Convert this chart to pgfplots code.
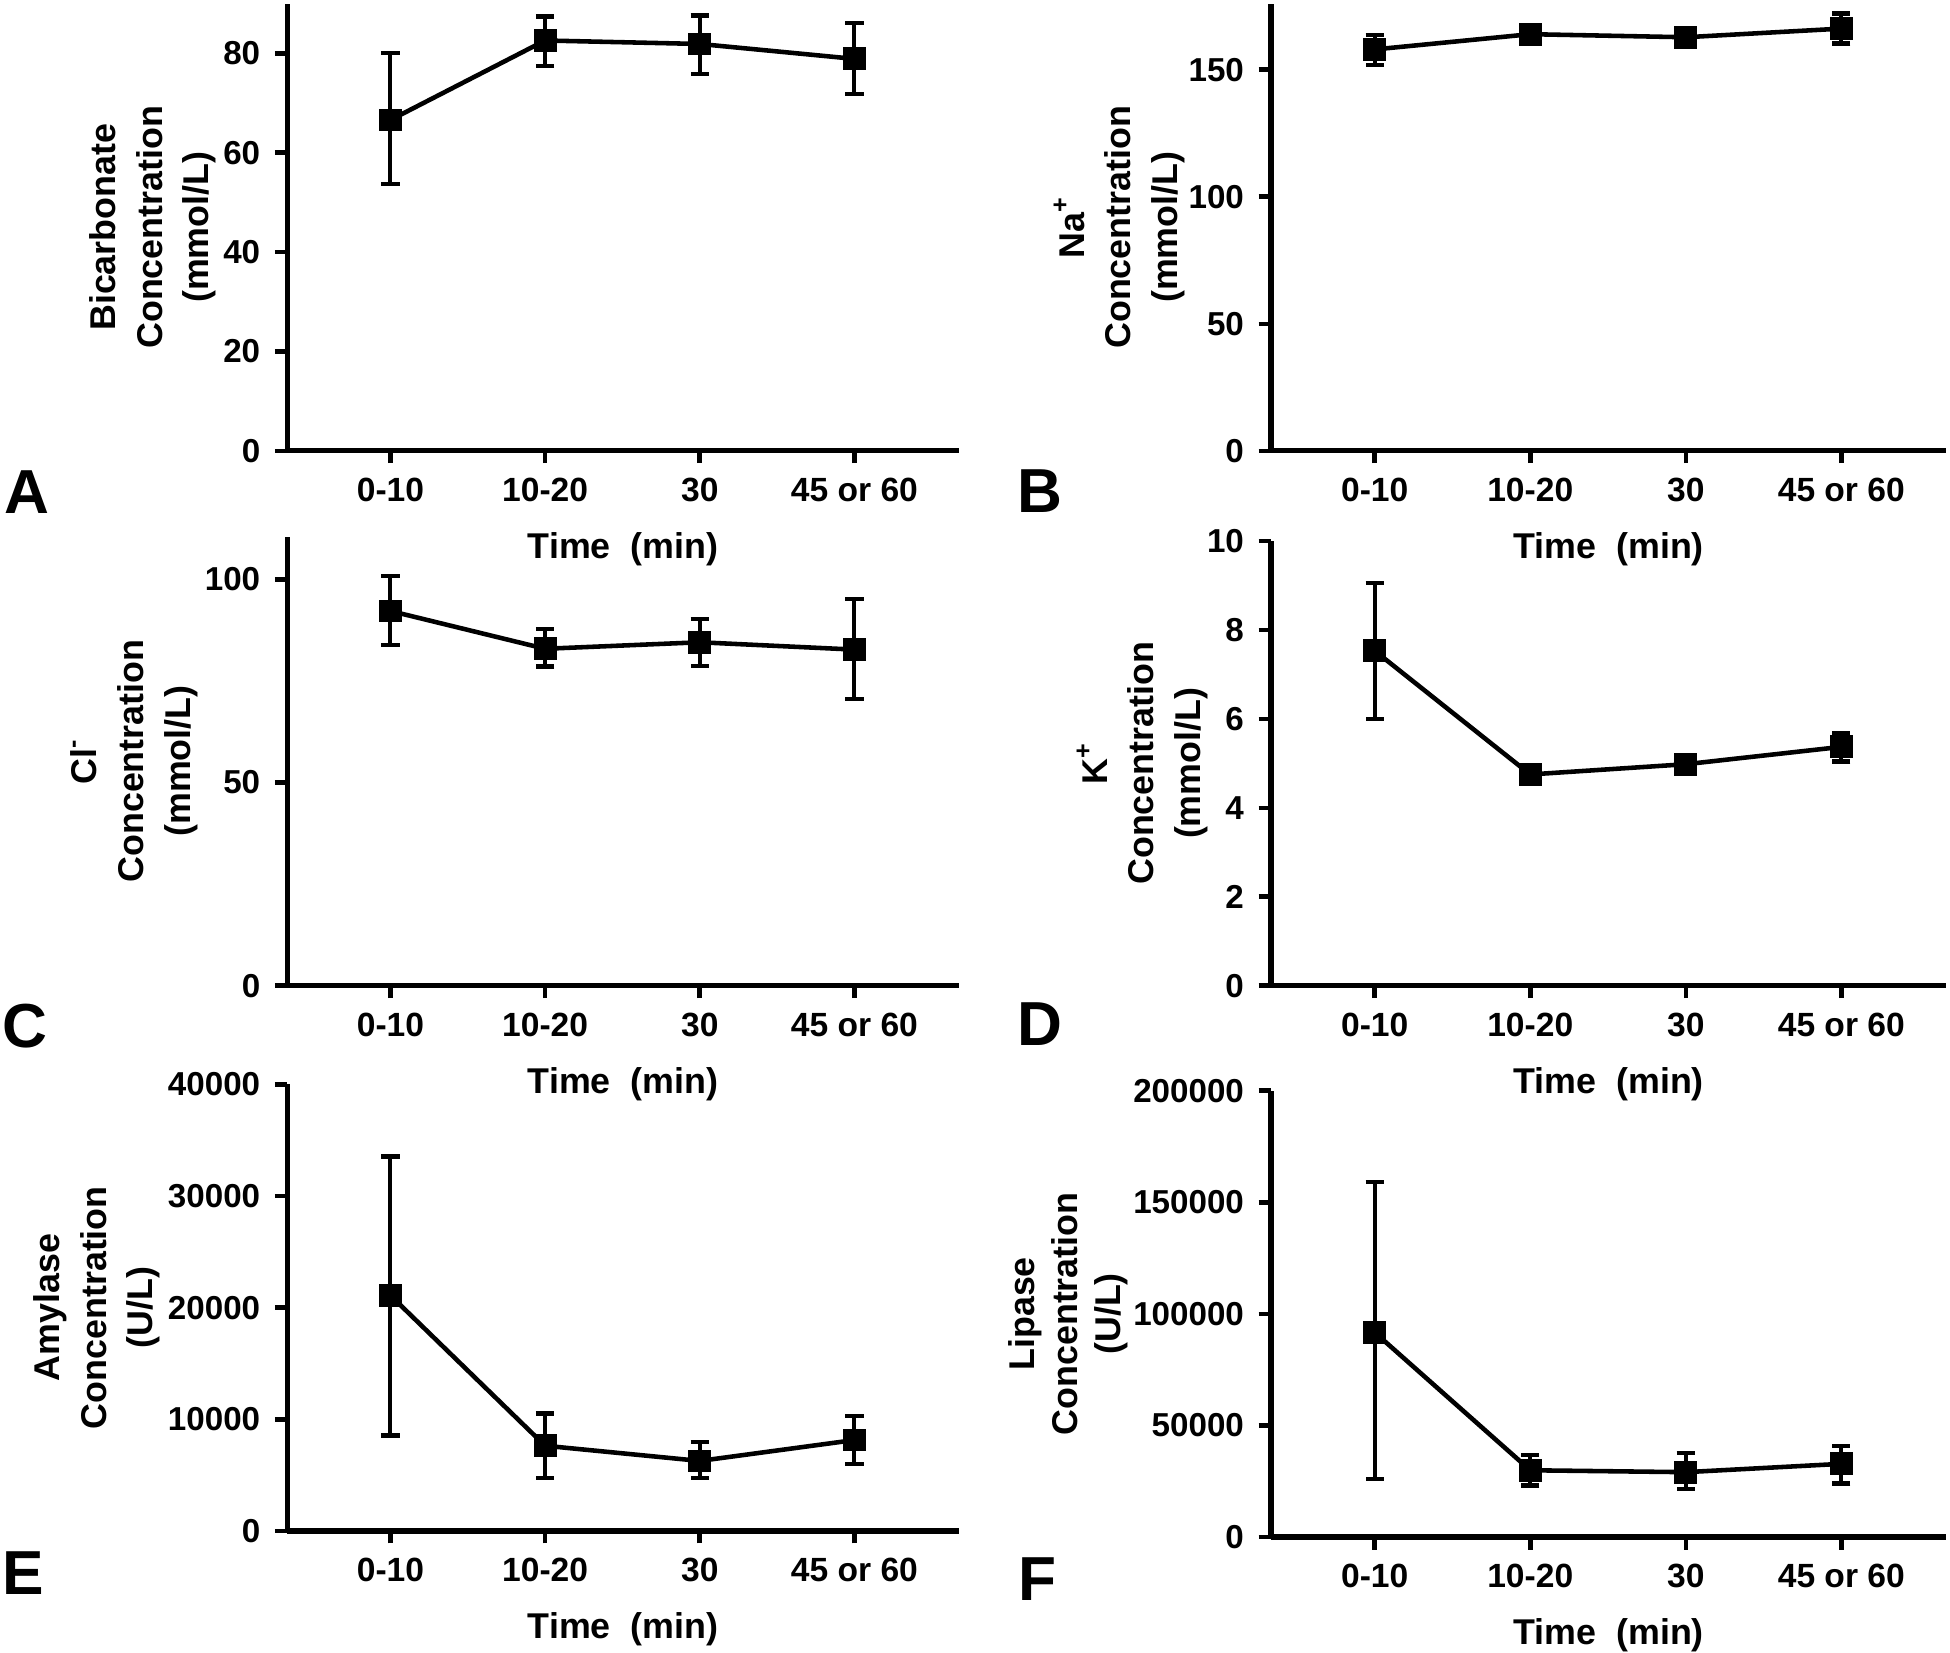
\documentclass[border=0pt]{standalone}
\usepackage{pgfplots}
\pgfplotsset{compat=1.18}
\usepackage{pgfplotstable}
\usepackage{fontspec}
\setmainfont{Liberation Sans}

\pgfplotstableread{
x y ep em
0 66.6 13.5 12.9
1 82.6 4.8 5.1
2 81.9 5.7 6.0
3 78.9 7.2 7.1
}\dataA
\pgfplotstableread{
x y ep em
0 158.0 5.8 6.1
1 164.0 1.8 1.8
2 162.8 1.8 1.8
3 166.2 6.0 5.8
}\dataB
\pgfplotstableread{
x y ep em
0 92.2 8.6 8.4
1 82.9 4.8 4.4
2 84.5 5.7 5.9
3 82.7 12.5 12.2
}\dataC
\pgfplotstableread{
x y ep em
0 7.53 1.52 1.54
1 4.75 0.12 0.12
2 4.98 0.15 0.15
3 5.37 0.31 0.33
}\dataD
\pgfplotstableread{
x y ep em
0 21100 12450 12560
1 7630 2880 2880
2 6270 1700 1520
3 8140 2130 2140
}\dataE
\pgfplotstableread{
x y ep em
0 91700 67350 65650
1 29950 6770 6770
2 29100 8460 7610
3 32830 8120 8800
}\dataF

\pgfplotsset{
  panel/.style={
    scale only axis,
    axis lines=left,
    axis line style={-, line width=1.3pt},
    tick align=outside,
    major tick length=3pt,
    tick style={line width=1.1pt, black},
    xmin=-0.667, xmax=3.675,
    xtick={0,1,2,3},
    xticklabels={0-10,10-20,30,45 or 60},
    ymin=0,
    clip=false,
    /pgf/number format/assume math mode=true,
    /pgf/number format/fixed,
    /pgf/number format/precision=0,
    /pgf/number format/1000 sep={},
    scaled y ticks=false,
    yticklabel style={font=\bfseries\fontsize{8}{9}\selectfont},
    xticklabel style={font=\bfseries\fontsize{8.1}{9}\selectfont},
    xlabel={Time\ \ (min)},
    xlabel style={at={(axis description cs:0.5,0)}, anchor=base, yshift=-26pt, font=\bfseries\fontsize{8.64}{10}\selectfont},
    ylabel style={at={(axis description cs:#1,0.5)}, anchor=center, align=center, font=\bfseries\fontsize{8.64}{11.25}\selectfont},
  },
  ser/.style={black, line width=1.1pt, mark=square*, mark size=2.2pt,
    mark options={solid, fill=black},
    error bars/y dir=both, error bars/y explicit,
    error bars/error bar style={line width=0.95pt, black},
    error bars/error mark options={rotate=90, mark size=2.2pt, line width=1.05pt, black}},
}

\begin{document}
\begin{tikzpicture}
\useasboundingbox (0,0) rectangle (470.4pt,398.7pt);

% A
\begin{axis}[panel=-0.200, at={(69.3pt,289.95pt)}, anchor=south west,
  width=162pt, height=107.85pt, ymax=90, ytick={0,20,...,80},
  ylabel={Bicarbonate\\Concentration\\(mmol/L)}]
\addplot[ser] table[x=x,y=y,y error plus=ep,y error minus=em] {\dataA};
\end{axis}

% B
\begin{axis}[panel=-0.2247, at={(306.6pt,289.95pt)}, anchor=south west,
  width=162.9pt, height=107.85pt, ymax=176, ytick={0,50,100,150},
  ylabel={Na\textsuperscript{+}\\Concentration\\(mmol/L)}]
\addplot[ser] table[x=x,y=y,y error plus=ep,y error minus=em] {\dataB};
\end{axis}

% C
\begin{axis}[panel=-0.228, at={(69.3pt,160.92pt)}, anchor=south west,
  width=162pt, height=108.33pt, ymax=110.5, ytick={0,50,100},
  ylabel={Cl\textsuperscript{-}\\Concentration\\(mmol/L)}]
\addplot[ser] table[x=x,y=y,y error plus=ep,y error minus=em] {\dataC};
\end{axis}

% D
\begin{axis}[panel=-0.1906, at={(306.6pt,160.92pt)}, anchor=south west,
  width=162.9pt, height=107.28pt, ymax=10, ytick={0,2,...,10},
  ylabel={K\textsuperscript{+}\\Concentration\\(mmol/L)}]
\addplot[ser] table[x=x,y=y,y error plus=ep,y error minus=em] {\dataD};
\end{axis}

% E
\begin{axis}[panel=-0.2837, at={(69.3pt,29.4pt)}, anchor=south west,
  width=162pt, height=107.7pt, ymax=40000, ytick={0,10000,...,40000},
  ylabel={Amylase\\Concentration\\(U/L)}]
\addplot[ser] table[x=x,y=y,y error plus=ep,y error minus=em] {\dataE};
\end{axis}

% F
\begin{axis}[panel=-0.300, at={(306.6pt,27.9pt)}, anchor=south west,
  width=162.9pt, height=107.7pt, ymax=200000, ytick={0,50000,...,200000},
  ylabel={Lipase\\Concentration\\(U/L)},
  ylabel style={font=\bfseries\fontsize{8.64}{10.4}\selectfont}]
\addplot[ser] table[x=x,y=y,y error plus=ep,y error minus=em] {\dataF};
\end{axis}

\begin{scope}[every node/.style={inner sep=0pt, anchor=base west, font=\bfseries\fontsize{15}{18}\selectfont}]
\node at (0.9pt,274.9pt) {A};
\node at (245.3pt,274.95pt) {B};
\node at (0.5pt,146.1pt) {C};
\node at (245.3pt,146.4pt) {D};
\node at (0.3pt,14.1pt) {E};
\node at (245.6pt,12.6pt) {F};
\end{scope}
\end{tikzpicture}
\end{document}
